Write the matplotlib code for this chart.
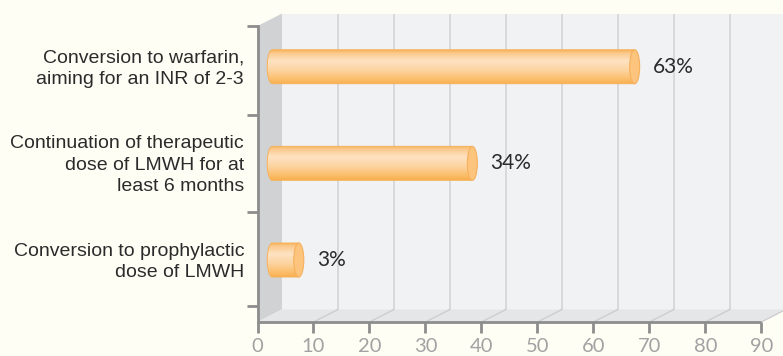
import numpy as np
import matplotlib
matplotlib.use("Agg")
import matplotlib.pyplot as plt
from matplotlib.path import Path
from matplotlib.patches import PathPatch, Polygon, Ellipse, Rectangle
from matplotlib.colors import LinearSegmentedColormap

# ---- data -------------------------------------------------------------
categories = [
    "Conversion to warfarin,\naiming for an INR of 2-3",
    "Continuation of therapeutic\ndose of LMWH for at\nleast 6 months",
    "Conversion to prophylactic\ndose of LMWH",
]
values = [63, 34, 3]
value_labels = ["63%", "34%", "3%"]
x_ticks = [0, 10, 20, 30, 40, 50, 60, 70, 80, 90]
x_max = 90

# ---- style ------------------------------------------------------------
BG = "#fefef5"
BACK_WALL = "#f1f2f4"
SIDE_WALL = "#d1d2d4"
FLOOR = "#e5e6e8"
GRID_BACK = "#d6d7d9"
GRID_FLOOR = "#cbccce"
AXIS = "#8d8d8d"
TICK_TXT = "#a2a2a2"
TXT = "#2b2b2b"

W, H = 783, 356
fig = plt.figure(figsize=(W / 100, H / 100), dpi=100)
fig.patch.set_facecolor(BG)
ax = fig.add_axes([0, 0, 1, 1])
ax.set_axis_off()
ax.set_facecolor(BG)

# mapping between figure pixels and data units (x: value, y: category index)
X0_PX, PX_PER_UNIT = 257.5, (761.3 - 257.5) / 90
Y0_PX, PX_PER_CAT = 66.7, 96.65


def ux(p):
    return (p - X0_PX) / PX_PER_UNIT


def uy(p):
    return (p - Y0_PX) / PX_PER_CAT


# depth of the 3-D box
DX = 24.5 / PX_PER_UNIT
DY = 12.5 / PX_PER_CAT

y_front = uy(322)
top_front = uy(26)
y_back = y_front - DY
top_back = top_front - DY

# walls and floor
ax.add_patch(Rectangle((DX, top_back), x_max + 2 * DX, y_back - top_back,
                       facecolor=BACK_WALL, edgecolor="none", zorder=0))
ax.add_patch(Polygon([(0, y_front), (0, top_front), (DX, top_back), (DX, y_back)],
                     closed=True, facecolor=SIDE_WALL, edgecolor="none", zorder=1))
ax.add_patch(Polygon([(0, y_front), (x_max, y_front), (x_max + DX, y_back), (DX, y_back)],
                     closed=True, facecolor=FLOOR, edgecolor="none", zorder=1))

# gridlines: vertical on the back wall, slanted across the floor
for v in x_ticks[1:]:
    ax.plot([v + DX, v + DX], [top_back, y_back], color=GRID_BACK, lw=1.3,
            zorder=1.5, solid_capstyle="butt")
    ax.plot([v, v + DX], [y_front, y_back], color=GRID_FLOOR, lw=0.9, zorder=1.5)

# axis lines and ticks
ax.plot([0, x_max], [y_front, y_front], color=AXIS, lw=2.0, zorder=4,
        solid_capstyle="butt")
ax.plot([0, 0], [top_front, y_front], color=AXIS, lw=2.0, zorder=4,
        solid_capstyle="projecting")
for v in x_ticks:
    ax.plot([v, v], [y_front, uy(333)], color=AXIS, lw=2.0, zorder=4,
            solid_capstyle="butt")
    ax.text(v, uy(346), str(v), ha="center", va="center", fontsize=14.5,
            family="Lato", color=TICK_TXT, zorder=5)
n = len(categories)
left_ticks = [top_front] + [i + 0.5 for i in range(n - 1)] + [uy(306)]
for t in left_ticks:
    ax.plot([ux(246.5), 0], [t, t], color=AXIS, lw=2.0, zorder=4,
            solid_capstyle="butt")

# cylinder bars
bar_cmap = LinearSegmentedColormap.from_list(
    "bar", [(0.0, "#f8b257"), (0.08, "#fbc88a"), (0.32, "#fee3c3"),
            (0.6, "#fdd3a0"), (0.88, "#fbbc68"), (1.0, "#f9ae4b")])
grad = np.linspace(0, 1, 256).reshape(-1, 1)
bar_h = 34 / PX_PER_CAT
rx = 5 / PX_PER_UNIT
start = 0.6 * DX

for i, (v, lab) in enumerate(zip(values, value_labels)):
    end = v + DX
    top, bot = i - bar_h / 2, i + bar_h / 2
    t = np.linspace(-np.pi / 2, np.pi / 2, 40)
    arc = np.column_stack([start - rx * np.cos(t), i + bar_h / 2 * np.sin(t)])
    verts = np.vstack([[end, top], [start, top], arc, [end, bot], [end, top]])
    codes = [Path.MOVETO] + [Path.LINETO] * (len(verts) - 2) + [Path.CLOSEPOLY]
    body = PathPatch(Path(verts, codes), facecolor="none", edgecolor="#f6b25c",
                     lw=0.7, zorder=3.1)
    ax.add_patch(body)
    im = ax.imshow(grad, extent=(start - rx, end, bot, top), origin="upper",
                   aspect="auto", cmap=bar_cmap, interpolation="bicubic", zorder=3)
    im.set_clip_path(body)
    ax.add_patch(Ellipse((end, i), 2 * rx, bar_h, facecolor="#fdc47d",
                         edgecolor="#f6b05c", lw=0.8, zorder=3.2))
    ax.text(end + rx + 13 / PX_PER_UNIT, i, lab, ha="left", va="center",
            fontsize=15, family="Lato", color=TXT, zorder=5)

# category labels
for i, c in enumerate(categories):
    ax.text(ux(244), i + 0.02, c, ha="right", va="center", fontsize=14,
            family="Liberation Sans", color=TXT, linespacing=1.33, zorder=5)

ax.set_xlim(ux(0), ux(W))
ax.set_ylim(uy(H), uy(0))

fig.savefig("out.png", dpi=100, facecolor=BG)
